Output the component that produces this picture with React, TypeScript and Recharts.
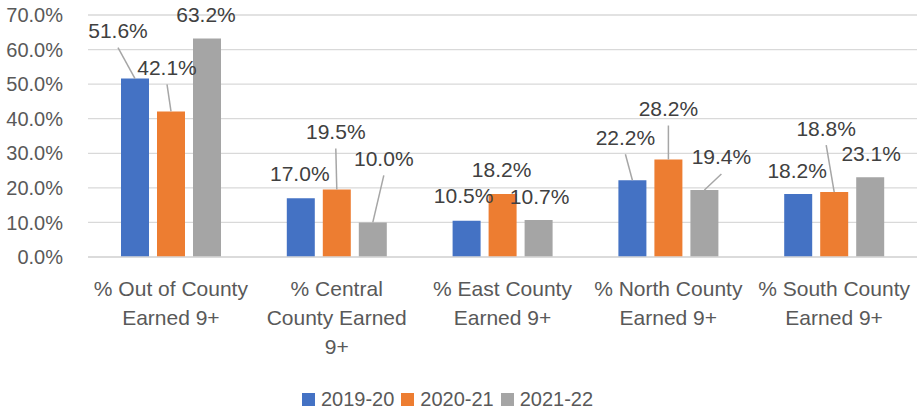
import React from "react";
import {
  BarChart,
  Bar,
  XAxis,
  YAxis,
  CartesianGrid,
  Legend,
  LabelList,
} from "recharts";

const categories = [
  "% Out of County Earned 9+",
  "% Central County Earned 9+",
  "% East County Earned 9+",
  "% North County Earned 9+",
  "% South County Earned 9+",
];

// how Excel wrapped each category label
const categoryLines = [
  ["% Out of County", "Earned 9+"],
  ["% Central", "County Earned", "9+"],
  ["% East County", "Earned 9+"],
  ["% North County", "Earned 9+"],
  ["% South County", "Earned 9+"],
];

const years = ["2019-20", "2020-21", "2021-22"];
const values2019 = [51.6, 17.0, 10.5, 22.2, 18.2];
const values2020 = [42.1, 19.5, 18.2, 28.2, 18.8];
const values2021 = [63.2, 10.0, 10.7, 19.4, 23.1];
const yTicks = [0, 10, 20, 30, 40, 50, 60, 70];

const COLORS = ["#4472C4", "#ED7D31", "#A5A5A5"];
const FONT = "'Liberation Sans', Arial, sans-serif";

// label nudges (dx, dy from bar top centre), as the labels were dragged in Excel
const labelShift: number[][][] = [
  [[-17, -48], [-1, -25], [-3, -25], [-7, -43], [-1, -24]],
  [[-4, -44], [-1, -58], [-1, -25], [0, -51], [-8, -64]],
  [[-1, -24], [11, -64], [1, -24], [17, -33], [1, -24]],
];

const data = categories.map((name, i) => ({
  name,
  y2019: values2019[i],
  y2020: values2020[i],
  y2021: values2021[i],
}));

const seriesKeys = ["y2019", "y2020", "y2021"];

function makeLabel(series: number) {
  return function DataLabel(props: any) {
    const { x, y, width, value, index } = props;
    const cx = Number(x) + Number(width) / 2;
    const top = Number(y);
    const [dx, dy] = labelShift[series][index] ?? [0, -24];
    const lx = cx + dx;
    const ly = top + dy;
    return (
      <g>
        {dy < -30 && (
          <line
            x1={lx}
            y1={ly + 17}
            x2={cx}
            y2={top}
            stroke="#A6A6A6"
            strokeWidth={1.5}
          />
        )}
        <text
          x={lx}
          y={ly}
          dy="0.36em"
          textAnchor="middle"
          fill="#404040"
          fontSize={21}
          fontFamily={FONT}
        >
          {`${Number(value).toFixed(1)}%`}
        </text>
      </g>
    );
  };
}

function CategoryTick(props: any) {
  const { x, y, payload } = props;
  const idx = categories.indexOf(payload.value);
  const lines = categoryLines[idx] ?? [payload.value];
  return (
    <text
      x={x}
      y={y}
      textAnchor="middle"
      fill="#595959"
      fontSize={21}
      fontFamily={FONT}
    >
      {lines.map((line, i) => (
        <tspan key={i} x={x} y={y + 39 + i * 29}>
          {line}
        </tspan>
      ))}
    </text>
  );
}

function LegendContent() {
  return (
    <div
      style={{
        display: "flex",
        justifyContent: "center",
        alignItems: "center",
        height: 30,
        paddingRight: 22,
        fontFamily: FONT,
        fontSize: 20,
        color: "#595959",
      }}
    >
      {years.map((yr, i) => (
        <div
          key={yr}
          style={{
            display: "flex",
            alignItems: "center",
            marginRight: i < years.length - 1 ? 7 : 0,
          }}
        >
          <span
            style={{
              width: 13,
              height: 13,
              background: COLORS[i],
              marginRight: 6,
              display: "inline-block",
            }}
          />
          <span>{yr}</span>
        </div>
      ))}
    </div>
  );
}

export default function App() {
  return (
    <div style={{ position: "absolute", left: 0, top: 0, background: "#fff" }}>
      <BarChart
        width={917}
        height={414}
        data={data}
        margin={{ top: 15, right: 0, left: 0, bottom: 0 }}
        barSize={28}
        barGap={8}
      >
        <CartesianGrid vertical={false} stroke="#D9D9D9" strokeWidth={1.3} />
        <XAxis
          dataKey="name"
          interval={0}
          height={127}
          tickLine={false}
          tickSize={0}
          tickMargin={0}
          axisLine={{ stroke: "#D9D9D9", strokeWidth: 1.3 }}
          tick={<CategoryTick />}
        />
        <YAxis
          width={88}
          domain={[0, 70]}
          ticks={yTicks}
          axisLine={false}
          tickLine={false}
          tickSize={0}
          tickMargin={25}
          tick={{ fill: "#595959", fontSize: 20, fontFamily: FONT }}
          tickFormatter={(v: number) => `${v.toFixed(1)}%`}
        />
        <Legend verticalAlign="bottom" content={<LegendContent />} />
        {seriesKeys.map((key, i) => (
          <Bar
            key={key}
            dataKey={key}
            name={years[i]}
            fill={COLORS[i]}
            isAnimationActive={false}
          >
            <LabelList dataKey={key} content={makeLabel(i)} />
          </Bar>
        ))}
      </BarChart>
    </div>
  );
}
